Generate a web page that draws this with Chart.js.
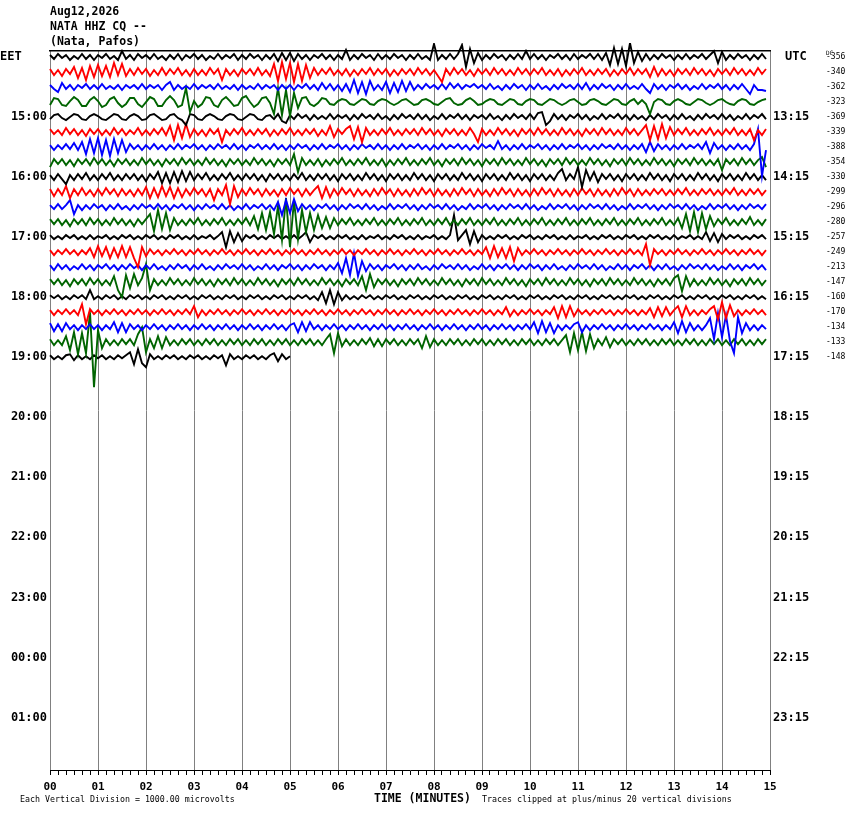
<!DOCTYPE html>
<html>
<head>
<meta charset="utf-8">
<script src="https://cdn.jsdelivr.net/npm/chart.js@4.4.1/dist/chart.umd.min.js"></script>
<style>
  html, body { margin: 0; background: #fff; }
</style>
</head>
<body>
<canvas id="heli" width="850" height="814"></canvas>
<script>
// header + axis text
const stationLines = ["Aug12,2026", "NATA HHZ CQ --", "(Nata, Pafos)"];
const labelRows = [4, 8, 12, 16, 20, 24, 28, 32, 36, 40, 44];
const eetLabels = ["15:00", "16:00", "17:00", "18:00", "19:00", "20:00", "21:00", "22:00", "23:00", "00:00", "01:00"];
const utcLabels = ["13:15", "14:15", "15:15", "16:15", "17:15", "18:15", "19:15", "20:15", "21:15", "22:15", "23:15"];
const dcOffsets = [-356, -340, -362, -323, -369, -339, -388, -354, -330, -299, -296, -280, -257, -249, -213, -147, -160, -170, -134, -133, -148];
const traceColors = ["#000000", "#ff0000", "#0000ff", "#006400"];
const sampleStep = 1 / 12;   // minutes between samples (5 s)
const rowsShown = 48;         // 15-minute lines on the page

// trace samples (pixel-ish units, + is up)
const trace00 = [
  2,-2,3,-1,2,-3,1,-2,3,-2,2,-3,2,-1,3,-2,1,-3,6,-2,2,-3,3,-1,2,-2,3,-2,1,-3,
  2,-2,3,-3,2,-1,3,-2,2,-3,1,-2,3,-2,2,-1,3,-3,2,-2,3,-1,2,-3,2,-2,3,-4,4,-3,
  4,-4,3,-2,2,-3,2,-1,3,-2,2,-3,2,-2,7,-3,2,-2,3,-1,2,-3,3,-2,2,-2,3,-1,2,-3,
  2,-2,3,-2,1,-3,13,-3,2,-2,3,-2,3,12,-10,8,-6,4,-3,2,-2,3,-1,2,-3,2,-2,3,-2,6,
  -2,3,-2,2,-3,2,-1,3,-2,2,-3,3,-2,2,-1,3,-2,3,-3,4,-8,9,-7,8,-9,14,-6,5,-4,3,
  -3,2,-2,3,-1,2,-3,2,-2,3,-2,2,-1,3,-2,2,6,-6,5,-3,2,-2,3,-1,2,-3,2,-2,3,-2];
const trace01 = [
  3,-3,2,-4,3,-2,5,-6,4,-8,6,-5,7,-4,6,-5,9,-3,8,-4,3,-3,4,-2,3,-4,2,-3,4,-3,
  3,-2,4,-3,2,-4,3,-3,2,-3,4,-2,3,-8,3,-3,2,-4,3,-2,3,-3,4,-3,2,-4,8,-9,10,-7,
  9,-10,8,-9,7,-6,4,-3,3,-2,4,-3,2,-3,3,-4,2,-3,3,-2,4,-3,3,-2,3,-4,2,-3,3,-2,
  3,-3,4,-2,3,-3,2,-4,-10,3,-3,4,-2,3,-3,2,-4,3,-2,3,-3,4,-2,3,-3,2,-3,4,-2,3,
  -3,3,-2,4,-3,2,-3,3,-4,2,-3,3,-2,4,-3,2,-3,3,-2,3,-4,2,-3,3,-2,4,-3,3,-2,3,
  -5,5,-4,3,-3,2,-4,3,-2,3,-3,4,-2,3,-3,2,-4,3,-2,3,-3,4,-2,3,-3,2,-3,4,-2,3];
const trace02 = [
  2,-2,-5,4,-2,2,-3,2,-1,3,-2,2,-2,3,-2,1,-2,2,-3,2,-1,2,-2,3,-2,2,-1,2,-3,2,
  5,-3,2,-2,1,-2,3,-2,2,-1,2,-2,3,-2,1,-2,2,-3,2,-2,1,-2,3,-2,2,-1,2,-3,2,-2,
  2,-3,2,-1,3,-2,2,-3,4,-2,3,-3,2,-4,3,-5,7,-6,5,-7,6,-3,2,-3,5,-6,4,-5,6,-4,
  5,-3,2,-2,3,-1,2,-2,3,-2,4,-1,3,-2,2,0,3,-1,2,-2,3,-2,1,-3,2,-2,3,-1,2,-3,
  2,-2,3,-2,1,-3,2,-2,3,-1,2,-2,3,-2,4,-3,2,-2,3,-1,2,-3,2,-2,3,-2,1,-2,3,-2,
  -6,3,-2,2,-3,2,-1,3,-2,2,-3,1,-2,3,-2,2,-1,3,-2,2,-3,2,-2,3,-2,-7,2,-3,-3,-4];
const trace03 = [
  -3,4,3,-3,-4,1,5,2,-4,-4,2,5,1,-5,-3,3,5,-1,-5,-2,4,4,-2,-5,0,5,3,-4,-4,2,
  6,2,-5,-3,14,-10,1,-5,-2,5,4,-3,-5,2,5,1,-4,-3,4,6,0,-5,-2,4,5,-1,-12,14,-13,12,
  -14,9,-6,4,5,-2,-4,-1,4,3,-2,-3,1,3,2,-2,-3,0,3,2,-2,-3,1,3,2,-1,-3,-1,2,3,
  0,-3,-2,2,3,1,-2,-3,0,3,4,-1,-3,-2,2,4,1,-3,-2,1,3,2,-2,-3,0,3,2,-2,-3,1,
  3,2,-2,-3,0,3,2,-1,-3,-1,2,3,0,-3,-2,2,3,1,-2,-3,0,3,2,-2,-3,1,3,-2,2,-2,
  -12,0,3,2,-2,-3,1,3,1,-2,-3,0,3,2,-1,-3,-1,2,3,0,-2,-3,1,3,2,-2,-3,0,2,3];
const trace04 = [
  -2,2,3,-1,-3,0,3,2,-2,-3,1,3,1,-2,-3,0,3,2,-2,-3,1,3,1,-3,-2,2,3,0,-3,-2,
  2,3,-1,-3,-8,3,2,-2,-3,1,3,1,-2,-3,1,3,2,-2,-3,0,3,2,-2,-3,1,2,-2,3,-4,-6,
  2,-2,3,-1,2,-3,2,-2,1,-2,3,-2,2,-1,2,-3,2,-2,3,-1,2,-2,3,-2,1,-3,2,-2,3,-1,
  2,-2,3,-2,2,-3,1,-2,3,-2,2,-1,3,-2,2,-3,2,-1,2,-2,3,-2,1,-3,2,-2,3,-1,2,-2,
  3,-2,4,5,-8,-4,3,-2,2,-3,2,-1,3,-2,2,-3,1,-2,3,-2,2,-1,3,-2,2,-3,2,-2,1,-3,
  2,-2,3,-1,2,-3,2,-2,3,-2,1,-3,2,-2,3,-1,2,-2,3,-2,2,-3,1,-2,3,-2,2,-1,3,-2];
const trace05 = [
  3,-2,2,-3,4,-2,3,-3,2,-4,3,-2,3,-3,2,-3,4,-2,3,-3,2,-2,4,-3,2,-3,3,-2,4,-3,
  6,-8,7,-6,8,-5,3,-3,2,-4,3,-2,3,-10,2,-3,3,-2,4,-3,2,-3,3,-2,3,-4,2,-3,3,-2,
  4,-3,2,-3,3,-2,3,-4,2,-3,6,-5,3,-2,3,6,-7,5,-10,4,-3,2,-3,3,-2,4,-3,2,-3,3,
  -2,3,-3,4,-2,3,-3,2,-4,3,-2,3,-3,2,-3,4,-2,-10,3,-3,2,-3,4,-2,3,-3,2,-4,3,-2,
  3,-3,4,-2,3,-3,2,-3,4,-2,3,-3,2,-4,3,-2,3,-3,4,-2,3,-3,2,-3,4,-2,3,-3,2,7,
  -8,6,-7,8,-6,5,-3,3,-2,4,-3,2,-3,3,-2,4,-3,2,-3,3,-2,4,-3,2,-3,3,-8,2,-3,3];
const trace06 = [
  2,-3,2,-2,3,-2,4,-3,5,-7,8,-6,9,-8,7,-9,8,-6,7,-5,3,-2,2,-3,2,-2,3,-2,2,-3,
  2,-2,3,-2,2,-1,3,-2,2,-3,2,-2,3,-1,2,-2,3,-2,2,-3,2,-1,3,-2,2,-2,3,-2,2,-3,
  2,-2,3,-1,2,-3,2,-2,3,-2,2,-1,3,-2,2,-3,2,-2,3,-1,2,-2,3,-2,2,-3,2,-2,3,-2,
  2,-1,3,-2,2,-3,2,-2,3,-2,2,-1,3,-2,2,-3,2,-2,3,-1,2,-2,6,-2,2,-3,2,-2,3,-2,
  2,-1,3,-2,2,-3,2,-2,3,-2,2,-1,3,-2,2,-3,2,-2,3,-1,2,-2,3,-2,2,-3,2,-2,3,-5,
  5,-4,3,-2,2,-3,2,-2,3,-2,2,-1,3,-2,5,-6,4,-2,2,-3,2,-2,3,-2,2,-3,3,18,-29,-3];
const trace07 = [
  -5,3,-2,3,-3,2,-4,3,-2,3,-3,4,-2,3,-3,2,-4,3,-2,3,-3,2,-3,4,-2,3,-3,2,-4,3,
  -2,3,-3,4,-2,3,-3,2,-3,4,-2,3,-3,2,-4,3,-2,3,-3,2,-3,4,-2,3,-3,2,-4,3,-2,3,
  -3,8,-10,4,-3,2,-3,3,-4,2,-3,3,-2,4,-3,2,-3,3,-2,4,-3,2,-3,3,-4,2,-3,3,-2,4,
  -3,2,-3,3,-2,4,-3,2,-4,3,-2,3,-3,4,-2,3,-3,2,-4,3,-2,3,-3,4,-2,3,-3,2,-3,4,
  -2,3,-3,2,-4,3,-2,3,-3,4,-2,3,-3,2,-3,4,-2,3,-3,2,-4,3,-2,3,-3,4,-2,3,-3,2,
  -3,4,-2,3,-3,2,-4,3,-2,3,-3,4,-2,3,-3,2,-3,3,-8,3,-2,3,-3,4,-2,3,-3,2,5,-5];
const trace08 = [
  2,-3,3,-2,-7,2,-3,3,-2,4,-3,2,-3,3,-2,4,-3,2,-3,3,-2,3,-3,2,-4,3,-2,5,-6,4,
  -6,5,-5,6,-4,5,-3,3,-2,4,-3,2,-3,3,-2,4,-3,2,-3,3,-2,3,-3,2,-4,3,-2,3,-3,2,
  -3,3,-2,4,-3,2,-3,3,-2,3,-3,2,-4,3,-2,3,-3,2,-3,4,-2,3,-3,2,-4,3,-2,3,-3,2,
  -3,4,-2,3,-3,2,-4,3,-2,3,-3,2,-3,4,-2,3,-3,2,-4,3,-2,3,-3,2,-3,4,-2,3,-3,2,
  -4,3,-2,3,-3,2,-3,4,8,-3,3,-2,10,-10,7,-3,5,-5,3,-2,3,-3,2,-4,3,-2,3,-3,2,-3,
  4,-2,3,-3,2,-4,3,-2,3,-3,2,-3,4,-2,3,-3,2,-4,3,-2,3,-3,2,-3,4,-2,3,-3,2,-3];
const trace09 = [
  3,-4,3,-3,6,-6,3,-3,4,-3,2,-4,3,-3,4,-2,3,-4,3,-3,2,-4,3,-3,5,-6,4,-5,6,-4,
  5,-6,4,-5,3,-3,4,-2,3,-4,3,-8,3,-3,7,-12,6,-5,3,-3,4,-2,3,-4,3,-3,2,-4,3,-3,
  4,-2,3,-4,3,-3,2,6,-6,5,-5,3,-3,4,-2,3,-4,3,-3,2,-4,3,-3,4,-2,3,-4,3,-3,2,
  -4,3,-3,4,-2,3,-4,3,-3,2,-4,3,-3,4,-2,3,-4,3,-3,2,-4,3,-3,4,-2,3,-4,3,-3,2,
  -4,3,-3,4,-2,3,-4,3,-3,2,-4,3,-3,4,-2,3,-4,3,-3,2,-4,3,-3,4,-2,3,-4,3,-3,2,
  -3,3,-2,3,-3,2,-3,3,-2,4,-3,2,-3,3,-2,3,-3,2,-3,3,-2,4,-3,2,-3,3,-2,3,-3,2];
const trace10 = [
  2,-2,3,-2,2,7,-7,2,-3,2,-2,3,-1,2,-3,2,-2,3,-2,1,-3,2,-2,3,-1,2,-2,3,-2,2,
  -3,2,-1,3,-2,2,-3,2,-2,3,-1,2,-2,3,-2,2,-3,1,-2,3,-2,2,-1,3,-2,2,-3,5,-8,7,
  -6,8,-4,3,-2,2,-3,2,-1,3,-2,2,-3,2,-2,3,-1,2,-2,3,-2,2,-3,1,-2,3,-2,2,-1,3,
  -2,2,-3,2,-2,3,-1,2,-2,3,-2,2,-3,1,-2,3,-2,2,-1,3,-2,2,-3,2,-2,3,-1,2,-2,3,
  -2,2,-3,1,-2,3,-2,2,-1,3,-2,2,-3,2,-2,3,-1,2,-2,3,-2,2,-3,1,-2,3,-2,2,-1,3,
  -2,2,-3,2,-2,3,-1,2,-2,3,-2,2,-3,1,-2,3,-2,2,-1,3,-2,2,-3,2,-2,3,-1,2,-2,3];
const trace11 = [
  3,-2,3,-3,2,-4,3,-2,3,-3,4,-2,3,-3,2,-3,4,-2,3,-3,2,-4,3,-2,3,8,-9,12,-7,9,
  -8,4,-3,2,-3,3,-2,4,-3,2,-3,3,-2,4,-3,2,-3,3,-2,4,-3,6,-7,9,-8,10,-12,16,-18,24,
  -25,22,-17,12,-10,9,-8,7,-6,5,-6,4,-3,3,-2,4,-3,2,-3,3,-2,4,-3,2,-3,3,-2,4,-3,2,
  -3,3,-2,4,-3,2,-3,3,-2,4,-3,2,-3,3,-2,4,-3,2,-3,3,-2,4,-3,2,-3,3,-2,4,-3,2,
  -3,3,-2,4,-3,2,-3,3,-2,4,-3,2,-3,3,-2,4,-3,2,-3,3,-2,4,-3,2,-3,3,-2,4,-3,2,
  -3,3,-2,4,-3,2,-3,4,-6,8,-9,10,-10,9,-7,6,-4,3,-2,4,-3,2,-3,3,-2,5,-3,2,-3,3];
const trace12 = [
  2,-2,1,-2,2,-1,2,-2,1,-2,2,-2,1,-1,2,-2,1,-2,2,-1,2,-2,1,-2,2,-1,2,-2,1,-2,
  2,-1,2,-2,1,-2,2,-2,1,-1,2,-2,1,5,-10,6,-5,4,-4,2,-1,2,-2,1,-2,2,-1,2,-2,1,
  -2,2,-2,1,5,-5,2,-1,2,-2,1,-2,2,-1,2,-2,1,-2,2,-2,1,-1,2,-2,1,-2,2,-1,2,-2,
  1,-2,2,-2,1,-1,2,-2,1,-2,2,22,-3,2,7,-7,6,-5,2,-2,1,-2,2,-1,2,-2,1,-2,2,-1,
  2,-2,1,-2,2,-1,2,-2,1,-2,2,-2,1,-1,2,-2,1,-2,2,-1,2,-2,1,-2,2,-1,2,-2,1,-2,
  2,-1,2,-2,1,-2,2,-2,1,-1,2,-2,1,-2,5,-4,4,-5,3,-2,2,-1,2,-2,1,-2,2,-1,2,-2];
const trace13 = [
  2,-3,2,-2,3,-2,2,-3,2,-2,4,-5,6,-4,5,-6,4,-5,6,-5,5,-6,-15,5,-4,3,-2,2,-3,2,
  -2,3,-2,2,-3,2,-2,3,-2,2,-3,2,-2,3,-2,2,-3,2,-2,3,-2,2,-3,2,-2,3,-2,2,-3,2,
  -2,3,-2,2,-3,2,-2,3,-2,2,-3,2,-2,3,-2,2,-3,2,-2,3,-2,2,-3,2,-2,3,-2,2,-3,2,
  -2,3,-2,2,-3,2,-2,3,-2,2,-3,2,-2,3,-2,2,-3,2,-2,5,-6,6,-5,4,-6,5,-9,4,-3,2,
  -2,3,-2,2,-3,2,-2,3,-2,2,-3,2,-2,3,-2,2,-3,2,-2,3,-2,2,-3,2,-2,3,-2,2,-3,8,
  -13,3,-2,2,-3,2,-2,3,-2,2,-3,2,-2,3,-2,2,-3,2,-2,3,-2,2,-3,2,-2,3,-2,2,-3,2];
const trace14 = [
  2,-3,3,-2,2,-3,1,-2,3,-2,2,-3,2,-1,3,-2,2,-3,2,-2,3,-1,2,-3,2,-2,3,-2,1,-3,
  2,-2,3,-1,2,-3,2,-2,3,-2,1,-3,2,-2,3,-1,2,-2,3,-2,2,-3,1,-2,3,-2,2,-3,2,-1,
  3,-2,2,-3,2,-2,3,-1,2,-3,2,-2,4,-6,9,-8,14,-9,6,-4,3,-2,2,-3,2,-1,3,-2,2,-3,
  2,-2,3,-2,1,-3,2,-2,3,-1,2,-2,3,-2,2,-3,1,-2,3,-2,2,-3,2,-1,3,-2,2,-3,2,-2,
  3,-1,2,-3,2,-2,3,-2,1,-3,2,-2,3,-1,2,-2,3,-2,2,-3,1,-2,3,-2,2,-3,2,-1,3,-2,
  2,-3,2,-2,3,-2,1,-3,2,-2,3,-1,2,-2,3,-2,2,-3,1,-2,3,-2,2,-3,2,-1,3,-2,2,-3];
const trace15 = [
  3,-2,3,-3,2,-4,3,-2,3,-3,4,-2,3,-3,2,-3,6,-8,-15,7,-6,8,-3,4,18,-8,3,-3,2,-3,
  4,-2,3,-3,2,-3,4,-2,3,-3,2,-4,3,-2,3,-3,4,-2,3,-3,2,-3,4,-2,3,-3,2,-4,3,-2,
  3,-3,4,-2,3,-3,2,-3,4,-2,3,-3,2,-4,3,-2,3,-3,6,-8,8,-5,3,-2,3,-3,2,-4,3,-2,
  3,-3,4,-2,3,-3,2,-3,4,-2,3,-3,2,-4,3,-2,3,-3,4,-2,3,-3,2,-3,4,-2,3,-3,2,-4,
  3,-2,3,-3,4,-2,3,-3,2,-3,4,-2,3,-3,2,-4,3,-2,3,-3,4,-2,3,-3,2,-3,4,-2,3,-3,
  2,-4,3,-2,3,-3,4,7,-9,6,-4,3,-3,2,-3,4,-2,3,-3,2,-4,3,-2,3,-3,4,-2,3,-3,2];
const trace16 = [
  2,-1,2,-2,1,-2,2,-1,2,-2,7,-2,1,-2,2,-1,2,-2,1,-2,2,-1,2,-2,1,-2,2,-1,2,-2,
  1,-2,2,-1,2,-2,1,-2,2,-1,2,-2,1,-2,2,-1,2,-2,1,-2,2,-1,2,-2,1,-2,2,-1,2,-2,
  1,-2,2,-1,2,-2,1,-3,5,-6,7,-7,5,-3,2,-2,1,-2,2,-1,2,-2,1,-2,2,-1,2,-2,1,-2,
  2,-1,2,-2,1,-2,2,-1,2,-2,1,-2,2,-1,2,-2,1,-2,2,-1,2,-2,1,-2,2,-1,2,-2,1,-2,
  2,-1,2,-2,1,-2,2,-1,2,-2,1,-2,2,-1,2,-2,1,-2,2,-1,2,-2,1,-2,2,-1,2,-2,1,-2,
  2,-1,2,-2,1,-2,2,-1,2,-2,1,-2,2,-1,2,-2,1,-2,2,-1,2,-2,1,-2,2,-1,2,-2,1,-2];
const trace17 = [
  2,-3,2,-2,3,-2,2,-3,8,-12,3,-2,2,-3,2,-2,3,-2,2,-3,2,-2,3,-2,2,-3,2,-2,3,-2,
  2,-3,2,-2,3,-2,6,-5,2,-3,2,-2,3,-2,2,-3,2,-2,3,-2,2,-3,2,-2,3,-2,2,-3,2,-2,
  3,-2,2,-3,2,-2,3,-2,2,-3,2,-2,3,-2,2,-3,2,-2,3,-2,2,-3,2,-2,3,-2,2,-3,2,-2,
  3,-2,2,-3,2,-2,3,-2,2,-3,2,-2,3,-2,2,-3,2,-2,3,-2,2,-3,2,-2,5,-4,2,-3,2,-2,
  3,-2,2,-3,2,-2,5,-6,6,-5,6,-4,3,-2,2,-3,2,-2,3,-2,2,-3,2,-2,3,-2,2,-3,2,-2,
  4,-5,5,-4,5,-3,2,6,-5,6,-3,2,-3,2,-2,3,6,-7,10,-6,7,-4,2,-3,2,-2,3,-2,2,-3];
const trace18 = [
  4,-4,3,-4,4,-2,2,-3,2,-2,3,-2,2,-3,2,-2,5,-5,4,-5,3,-2,2,-3,2,-2,3,-2,2,-3,
  2,-2,3,-2,2,-3,2,-2,3,-2,2,-3,2,-2,3,-2,2,-3,2,-2,3,-2,2,-3,2,-2,3,-2,2,-3,
  2,4,-5,5,-4,5,-2,2,-3,2,-2,3,-2,2,-3,2,-2,3,-2,2,-3,2,-2,3,-2,2,-3,2,-2,3,
  -2,2,-3,2,-2,3,-2,2,-3,2,-2,3,-2,2,-3,2,-2,3,-2,2,-3,2,-2,3,-2,2,-3,2,-2,3,
  -2,5,-6,6,-5,4,-6,2,-3,2,-2,3,5,-5,2,-3,2,-2,3,-2,2,-3,2,-2,3,-2,2,-3,2,-2,
  3,-2,2,-3,2,-2,5,-6,6,-5,4,-3,2,-3,2,9,-12,14,-10,12,-14,-26,10,-6,4,-3,2,-3,2,-2];
const trace19 = [
  3,-3,2,-3,6,-8,10,-12,9,-11,30,-45,12,-6,3,-3,2,-3,3,-2,3,-3,8,15,-10,3,-6,6,-6,5,
  -3,2,-3,3,-2,3,-3,2,-3,3,-2,3,-3,2,-3,3,-2,3,-3,2,-3,3,-2,3,-3,2,-3,3,-2,3,
  -3,2,-3,3,-2,3,-3,2,-3,3,8,-11,9,-4,3,-3,2,-3,3,-2,4,-4,3,-4,3,-2,3,-3,2,-3,
  3,-2,3,-6,6,-5,3,-3,2,-3,3,-2,3,-3,2,-3,3,-2,3,-3,2,-3,3,-2,3,-3,2,-3,3,-2,
  3,-3,2,-3,3,-2,3,-3,2,7,-10,9,-8,10,-9,8,-6,3,-3,5,-5,3,-2,3,-3,2,-3,3,-2,3,
  -3,2,-3,3,-2,3,-3,2,-3,3,-2,3,-3,2,-3,3,-2,3,-3,2,-3,3,-2,3,-3,2,-3,3,-2,3];
const trace20 = [
  2,-2,1,-2,2,3,-3,2,-2,1,-2,2,-1,2,-2,1,-2,2,-1,2,5,-7,8,-6,-10,3,-2,1,-2,2,
  -1,2,-2,1,-2,2,-1,2,-2,1,-2,2,-1,2,-8,3,-2,1,-2,2,-1,2,-2,1,-2,2,4,-4,3,-2,1];

const traces = [trace00, trace01, trace02, trace03, trace04, trace05, trace06,
  trace07, trace08, trace09, trace10, trace11, trace12, trace13, trace14,
  trace15, trace16, trace17, trace18, trace19, trace20];

const GAIN = 1 / 15;   // row heights per trace unit
const FONT = '"DejaVu Sans Mono", monospace';

const datasets = traces.map((vals, row) => ({
  data: vals.map((v, k) => ({ x: k * sampleStep, y: row - v * GAIN })),
  borderColor: traceColors[row % 4],
  borderWidth: 1.9,
  borderJoinStyle: 'miter',
  pointRadius: 0,
  tension: 0,
  clip: 8
}));

const isWhole = v => Math.abs(v - Math.round(v)) < 1e-6;

// extra text: station header, EET/UTC/DC captions, footer notes
const pageText = {
  id: 'pageText',
  afterDraw(chart) {
    const c = chart.ctx;
    const a = chart.chartArea;
    const y0 = chart.scales.y.getPixelForValue(0);
    c.save();
    c.fillStyle = '#000';
    c.textBaseline = 'middle';
    c.font = 'bold 11.5px ' + FONT;
    stationLines.forEach((t, i) => c.fillText(t, a.left, 12 + 15 * i));
    c.font = 'bold 12px ' + FONT;
    c.fillText('EET', 0, y0);
    c.fillText('UTC', 785, y0);
    c.font = 'bold 11.5px ' + FONT;
    c.fillText('TIME (MINUTES)', 374, 799);
    c.font = '8.3px ' + FONT;
    c.fillText('Each Vertical Division = 1000.00 microvolts', 20, 800);
    c.fillText('Traces clipped at plus/minus 20 vertical divisions', 482, 800);
    c.font = '6px ' + FONT;
    c.fillText('DC', 826, y0 - 4);
    c.restore();
  }
};

new Chart(document.getElementById('heli'), {
  type: 'line',
  data: { datasets: datasets },
  plugins: [pageText],
  options: {
    responsive: false,
    animation: false,
    events: [],
    devicePixelRatio: 1,
    layout: { padding: { top: 51, left: 0, right: 0, bottom: 0 } },
    plugins: { legend: { display: false }, tooltip: { enabled: false } },
    scales: {
      x: {
        type: 'linear',
        position: 'bottom',
        min: 0,
        max: 15,
        afterBuildTicks: s => {
          s.ticks = [];
          for (let k = 0; k <= 90; k++) s.ticks.push({ value: k / 6 });
        },
        afterFit: s => { s.height = 44; },
        grid: {
          color: c => (c.tick && isWhole(c.tick.value)) ? '#808080' : 'rgba(0,0,0,0)',
          tickColor: '#000',
          tickLength: 5,
          lineWidth: 1
        },
        border: { display: true, color: '#000', width: 1 },
        ticks: {
          autoSkip: false,
          maxRotation: 0,
          padding: 6,
          color: '#000',
          font: { family: FONT, weight: 'bold', size: 11 },
          callback: v => isWhole(v) ? String(Math.round(v)).padStart(2, '0') : ''
        }
      },
      xTop: {
        type: 'linear',
        position: 'top',
        min: 0,
        max: 15,
        afterFit: s => { s.height = 0; },
        ticks: { display: false },
        grid: { display: false, drawTicks: false },
        border: { display: true, color: '#000', width: 1.5 }
      },
      y: {
        type: 'linear',
        position: 'left',
        reverse: true,
        min: -0.4,
        max: rowsShown - 0.5,
        afterBuildTicks: s => { s.ticks = labelRows.map(v => ({ value: v })); },
        afterFit: s => { s.width = 50; },
        grid: { display: false, drawTicks: false, tickLength: 0 },
        border: { display: false },
        ticks: {
          padding: 3,
          color: '#000',
          font: { family: FONT, weight: 'bold', size: 12 },
          callback: (v, i) => eetLabels[i]
        }
      },
      yUtc: {
        type: 'linear',
        position: 'right',
        weight: 0,
        reverse: true,
        min: -0.4,
        max: rowsShown - 0.5,
        afterBuildTicks: s => { s.ticks = labelRows.map(v => ({ value: v })); },
        afterFit: s => { s.width = 56; },
        grid: { display: false, drawTicks: false, tickLength: 0 },
        border: { display: false },
        ticks: {
          padding: 3,
          color: '#000',
          font: { family: FONT, weight: 'bold', size: 12 },
          callback: (v, i) => utcLabels[i]
        }
      },
      yDc: {
        type: 'linear',
        position: 'right',
        weight: 1,
        reverse: true,
        min: -0.4,
        max: rowsShown - 0.5,
        afterBuildTicks: s => { s.ticks = dcOffsets.map((d, i) => ({ value: i })); },
        afterFit: s => { s.width = 24; },
        grid: { display: false, drawTicks: false, tickLength: 0 },
        border: { display: false },
        ticks: {
          padding: 0,
          color: '#000',
          font: { family: FONT, size: 8 },
          callback: (v, i) => String(dcOffsets[i])
        }
      }
    }
  }
});
</script>
</body>
</html>
